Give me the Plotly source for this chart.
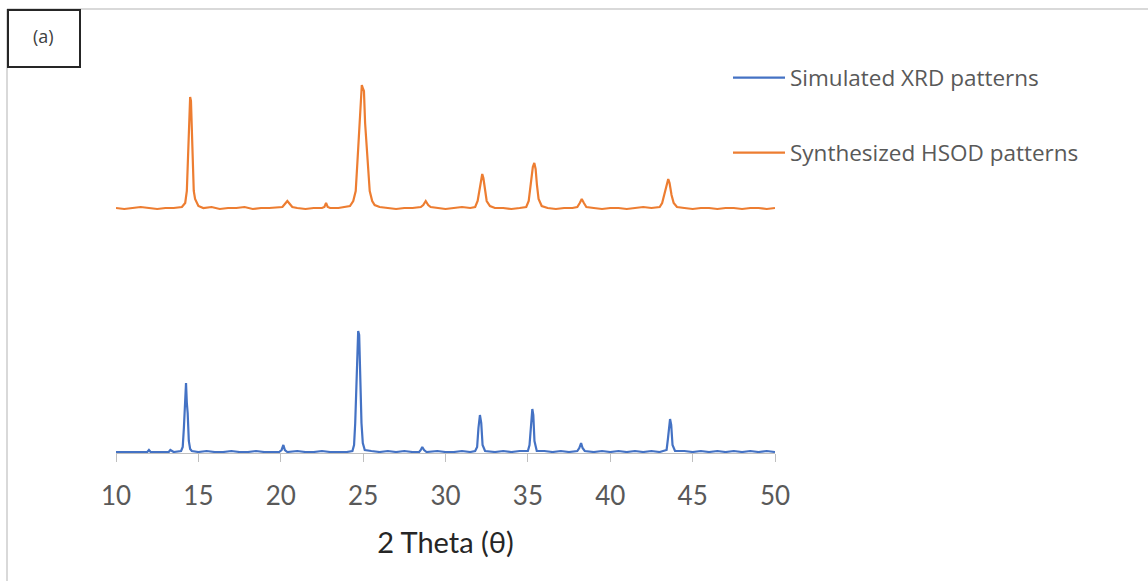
import plotly.graph_objects as go

# ---- data ----
two_theta_hsod = [10.0, 10.5, 11.0, 11.5, 12.0, 12.5, 13.0, 13.5, 14.0,
                  14.2, 14.3, 14.38, 14.45, 14.5, 14.55, 14.6, 14.65, 14.72, 14.8, 14.9, 15.0,
                  15.3, 15.8, 16.3, 16.8, 17.3, 17.8, 18.3, 18.8, 19.3, 19.8,
                  20.1, 20.25, 20.4, 20.55, 20.7,
                  21.0, 21.5, 22.0, 22.5,
                  22.65, 22.75, 22.85,
                  23.0, 23.5, 24.0,
                  24.2, 24.4, 24.55, 24.65, 24.75, 24.85, 24.92, 25.0, 25.05, 25.12, 25.2, 25.3, 25.4, 25.55, 25.7, 26.0,
                  26.5, 27.0, 27.5, 28.0, 28.5,
                  28.65, 28.8, 28.95, 29.1,
                  29.5, 30.0, 30.5, 31.0, 31.5,
                  31.8, 31.95, 32.05, 32.15, 32.23, 32.3, 32.4, 32.5, 32.7,
                  33.0, 33.5, 34.0, 34.5,
                  34.9, 35.05, 35.2, 35.3, 35.39, 35.47, 35.55, 35.65, 35.84,
                  36.2, 36.7, 37.2, 37.7,
                  38.0, 38.15, 38.27, 38.4, 38.55,
                  39.0, 39.5, 40.0, 40.5, 41.0, 41.5, 42.0, 42.5,
                  43.0, 43.15, 43.3, 43.43, 43.52, 43.6, 43.72, 43.85, 44.05,
                  44.5, 45.0, 45.5, 46.0, 46.5, 47.0, 47.5, 48.0, 48.5, 49.0, 49.5, 50.0]
intensity_hsod = [245, 244, 245, 246, 245, 244, 245, 245, 246,
                  250, 262, 300, 340, 356, 352, 320, 290, 262, 254, 250, 247,
                  245, 246, 244, 245, 245, 246, 244, 245, 245, 246,
                  246, 249, 252, 249, 246,
                  245, 244, 245, 245,
                  246, 250, 246,
                  245, 245, 246,
                  247, 252, 262, 290, 318, 350, 368, 364, 362, 330, 308, 280, 262, 252, 248, 246,
                  245, 244, 245, 245, 246,
                  248, 252, 248, 246,
                  245, 244, 245, 246, 245,
                  246, 252, 262, 275, 279, 275, 262, 252, 247,
                  245, 245, 244, 245,
                  246, 252, 270, 286, 290, 284, 268, 254, 247,
                  245, 244, 245, 245,
                  246, 250, 254, 250, 246,
                  245, 244, 245, 245, 244, 245, 246, 245,
                  246, 250, 260, 271, 274, 270, 258, 250, 246,
                  245, 244, 245, 245, 244, 245, 245, 244, 245, 245, 244, 245]

two_theta_sim = [10.0, 10.5, 11.0, 11.5, 11.9, 12.0, 12.1, 12.5, 13.0, 13.2, 13.3, 13.5,
                 13.95, 14.05, 14.12, 14.18, 14.25, 14.3, 14.35, 14.42, 14.5, 14.6,
                 15.0, 15.5, 16.0, 16.5, 17.0, 17.5, 18.0, 18.5, 19.0, 19.5,
                 19.9, 20.05, 20.16, 20.25, 20.4,
                 21.0, 21.5, 22.0, 22.5, 23.0, 23.5, 24.0,
                 24.35, 24.45, 24.52, 24.58, 24.65, 24.7, 24.76, 24.82, 24.9, 24.98, 25.1,
                 25.5, 26.0, 26.5, 27.0, 27.5, 28.0,
                 28.4, 28.5, 28.59, 28.7, 28.85,
                 29.5, 30.0, 30.5, 31.0, 31.5,
                 31.8, 31.92, 32.0, 32.09, 32.17, 32.25, 32.4,
                 33.0, 33.5, 34.0, 34.5,
                 35.0, 35.1, 35.18, 35.27, 35.33, 35.4, 35.54,
                 36.0, 36.5, 37.0, 37.5,
                 38.0, 38.12, 38.23, 38.32, 38.45,
                 39.0, 39.5, 40.0, 40.5, 41.0, 41.5, 42.0, 42.5,
                 43.0, 43.42, 43.5, 43.57, 43.63, 43.7, 43.78, 43.93,
                 44.5, 45.0, 45.5, 46.0, 46.5, 47.0, 47.5, 48.0, 48.5, 49.0, 49.5, 50.0]
intensity_sim = [1, 1, 1, 1, 1, 3, 1, 1, 1, 1, 3, 1,
                 2, 6, 25, 50, 70, 50, 40, 12, 4, 2,
                 1, 2, 1, 1, 2, 1, 1, 2, 1, 1,
                 1, 3, 8, 3, 1,
                 2, 1, 1, 2, 1, 1, 1,
                 2, 8, 30, 65, 110, 122, 118, 80, 30, 10, 3,
                 2, 1, 2, 1, 2, 1,
                 1, 3, 6, 3, 1,
                 2, 1, 1, 2, 1,
                 2, 6, 25, 38, 30, 8, 2,
                 1, 2, 1, 2,
                 2, 8, 30, 44, 38, 12, 2,
                 2, 1, 2, 1,
                 2, 5, 10, 5, 2,
                 1, 2, 1, 2, 1, 2, 1, 2,
                 1, 3, 14, 30, 34, 28, 8, 2,
                 2, 1, 2, 1, 2, 1, 2, 1, 2, 1, 2, 1]

x_ticks = [10, 15, 20, 25, 30, 35, 40, 45, 50]
series_names = ["Simulated XRD patterns", "Synthesized HSOD patterns"]

# ---- layout helpers (pixel -> paper) ----
W, H = 1148, 581
L, R, T, B = 116, 373, 10, 128
PW, PH = W - L - R, H - T - B


def px(x):
    return (x - L) / PW


def py(y):
    return (H - B - y) / PH


BLUE = "#4472C4"
ORANGE = "#ED7D31"

fig = go.Figure()
fig.add_trace(go.Scatter(x=two_theta_sim, y=intensity_sim, mode="lines",
                         name=series_names[0], line=dict(color=BLUE, width=2.2),
                         legend="legend"))
fig.add_trace(go.Scatter(x=two_theta_hsod, y=intensity_hsod, mode="lines",
                         name=series_names[1], line=dict(color=ORANGE, width=2.2),
                         legend="legend2"))

legend_common = dict(xanchor="left", yanchor="middle", bgcolor="rgba(0,0,0,0)",
                     font=dict(family="Open Sans", size=22.5, color="#595959"),
                     itemwidth=52)

fig.update_layout(
    width=W, height=H,
    margin=dict(l=L, r=R, t=T, b=B, pad=0),
    paper_bgcolor="white", plot_bgcolor="white",
    showlegend=True,
    legend=dict(x=px(728), y=py(78), **legend_common),
    legend2=dict(x=px(728), y=py(153), **legend_common),
    xaxis=dict(range=[10, 50], tickvals=x_ticks, ticks="outside", ticklen=8,
               tickcolor="#BFBFBF", showline=True, linecolor="#BFBFBF", linewidth=1,
               showgrid=False, zeroline=False, ticklabelstandoff=12,
               tickfont=dict(family="Lato", size=26, color="#595959"),
               title=dict(text="2 Theta (θ)", standoff=22,
                          font=dict(family="Lato", size=29, color="#262626"))),
    yaxis=dict(range=[0, PH], visible=False, showgrid=False, zeroline=False),
    shapes=[
        # outer chart border (top & left)
        dict(type="line", xref="paper", yref="paper", x0=px(7), x1=px(W + 5),
             y0=py(9), y1=py(9), line=dict(color="#D9D9D9", width=2)),
        dict(type="line", xref="paper", yref="paper", x0=px(7), x1=px(7),
             y0=py(9), y1=py(H + 5), line=dict(color="#D9D9D9", width=2)),
        # (a) label box
        dict(type="rect", xref="paper", yref="paper", x0=px(8), x1=px(80),
             y0=py(67), y1=py(10), line=dict(color="#262626", width=2),
             fillcolor="white"),
    ],
    annotations=[
        dict(text="(a)", xref="paper", yref="paper", x=px(43), y=py(36),
             showarrow=False, font=dict(family="Open Sans", size=18, color="#404040"),
             xanchor="center", yanchor="middle"),
    ],
)

fig.write_html("out.html")
